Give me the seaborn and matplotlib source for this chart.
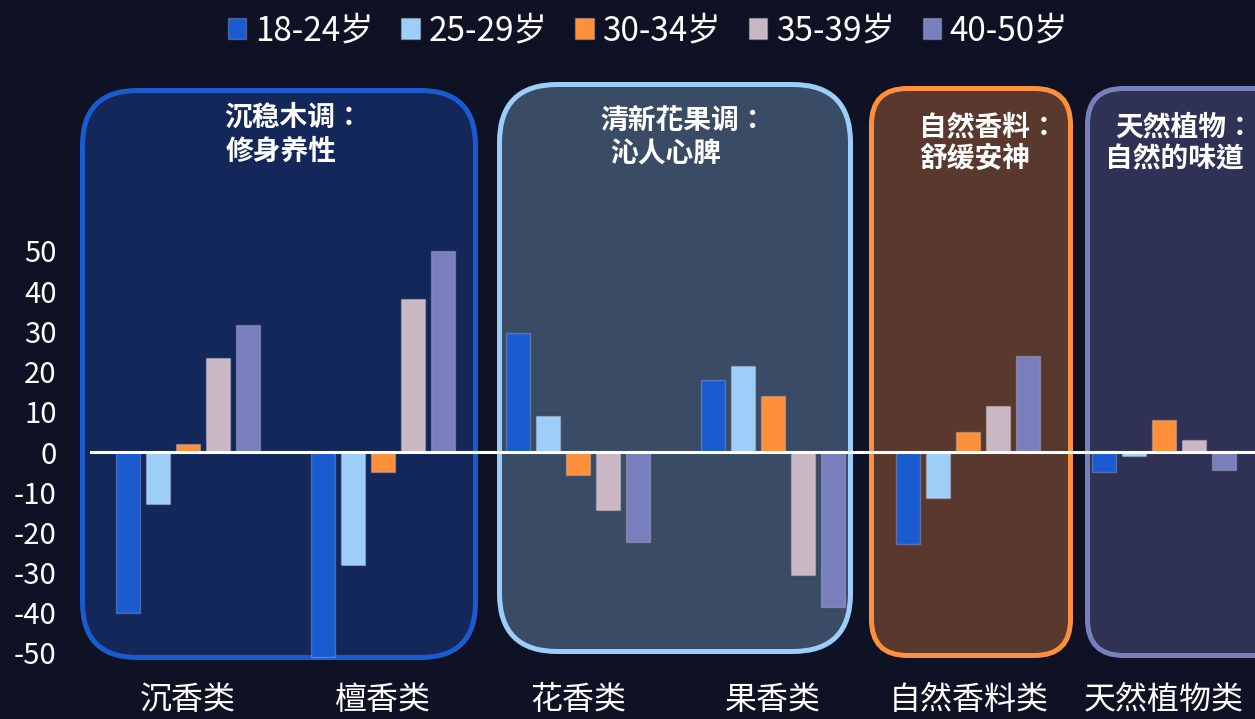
import matplotlib
matplotlib.use("Agg")
import matplotlib.pyplot as plt
from matplotlib.patches import FancyBboxPatch
from matplotlib.transforms import IdentityTransform
import seaborn as sns
import pandas as pd

# ---------------- data ----------------
categories = ["沉香类", "檀香类", "花香类", "果香类", "自然香料类", "天然植物类"]
age_groups = ["18-24岁", "25-29岁", "30-34岁", "35-39岁", "40-50岁"]
v_18_24 = [-40, -51, 29.5, 18, -23, -5]
v_25_29 = [-13, -28, 9, 21.5, -11.5, -1]
v_30_34 = [2, -5, -5.8, 14, 5, 8]
v_35_39 = [23.5, 38, -14.5, -30.5, 11.5, 3]
v_40_50 = [31.5, 50, -22.5, -38.5, 24, -4.5]
yticks = [-50, -40, -30, -20, -10, 0, 10, 20, 30, 40, 50]

group_titles = [["沉稳木调：", "修身养性"],
                ["清新花果调：", "沁人心脾"],
                ["自然香料：", "舒缓安神"],
                ["天然植物：", "自然的味道"]]

# ---------------- style ----------------
bar_colors = ["#1B5BD0", "#9DCEF8", "#FF8F3A", "#C9B8C3", "#787FBC"]
box_fill = ["#13275A", "#3A4B66", "#59382E", "#2F3254"]
box_edge = ["#1B5BD0", "#9DCEF8", "#FF8F3A", "#7880BC"]
# box geometry in output pixels (left, top, right, bottom, radius)
box_geom = [(82.5, 90.5, 475.5, 657.5, 55),
            (499.5, 84.5, 850.5, 651.5, 58),
            (871.5, 88.5, 1070.5, 655.5, 36),
            (1087.5, 88.5, 1290, 655.5, 36)]
# title line positions (left x, center y) in pixels
title_pos = [[(224, 118), (226, 152)],
             [(600, 122), (610, 155)],
             [(919, 127), (919, 159)],
             [(1115, 127), (1105, 159)]]

BG = "#0F1225"
W, H = 1255, 719
FONT = ["Noto Sans CJK SC", "DejaVu Sans"]
TITLE_FONT = ["Noto Sans CJK TC", "Noto Sans CJK SC", "DejaVu Sans"]

sns.set_theme(style="white")
plt.rcParams["font.family"] = FONT
plt.rcParams["axes.unicode_minus"] = False

df = pd.DataFrame({
    "cat": categories * 5,
    "age": [a for a in age_groups for _ in categories],
    "val": v_18_24 + v_25_29 + v_30_34 + v_35_39 + v_40_50,
})

fig = plt.figure(figsize=(W / 100, H / 100), dpi=100, facecolor=BG)

# axes: left 90px, right 1255px, bottom 670px, top 60px
ax = fig.add_axes([90 / W, (H - 670) / H, (W - 90) / W, 610 / H])
ax.set_facecolor("none")

sns.barplot(data=df, x="cat", y="val", hue="age", order=categories,
            hue_order=age_groups, palette=bar_colors, saturation=1,
            width=0.768, gap=0.2, edgecolor=(1, 1, 1, 0.22), linewidth=1,
            errorbar=None, ax=ax, zorder=3)

px_per_cat = 195.2
ax.set_xlim(-0.5, -0.5 + (W - 90) / px_per_cat)
ppu = 4.02
ax.set_ylim(-(670 - 452) / ppu, (452 - 60) / ppu)
ax.axhline(0, color="white", lw=2.2, zorder=5)

for s in ax.spines.values():
    s.set_visible(False)
ax.set_xlabel("")
ax.set_ylabel("")
ax.set_yticks(yticks)
ax.set_yticklabels([str(t) for t in yticks])
ax.tick_params(axis="y", colors="white", labelsize=21, length=0, pad=24)
ax.tick_params(axis="x", colors="white", labelsize=23, length=0, pad=10)

# rounded boxes
for (l, t, r, b, rad), fc, ec in zip(box_geom, box_fill, box_edge):
    p = FancyBboxPatch((l, H - b), r - l, b - t,
                       boxstyle=f"round,pad=0,rounding_size={rad}",
                       transform=IdentityTransform(), facecolor=fc,
                       edgecolor=ec, linewidth=3.6, zorder=-1)
    fig.add_artist(p)

# group titles
for lines, poss in zip(group_titles, title_pos):
    for txt, (x, y) in zip(lines, poss):
        fig.text(x / W, 1 - y / H, txt, color="white", fontsize=20,
                 fontweight="bold", ha="left", va="center", family=TITLE_FONT)

# legend
handles, labels = ax.get_legend_handles_labels()
ax.get_legend().remove()
fig.legend(handles, labels, loc="center", bbox_to_anchor=(648 / W, 1 - 31 / H),
           ncol=5, frameon=False, fontsize=24, labelcolor="white",
           handlelength=0.55, handleheight=0.6, handletextpad=0.25,
           columnspacing=0.85, borderaxespad=0)

fig.savefig("out.png", dpi=100, facecolor=BG)
